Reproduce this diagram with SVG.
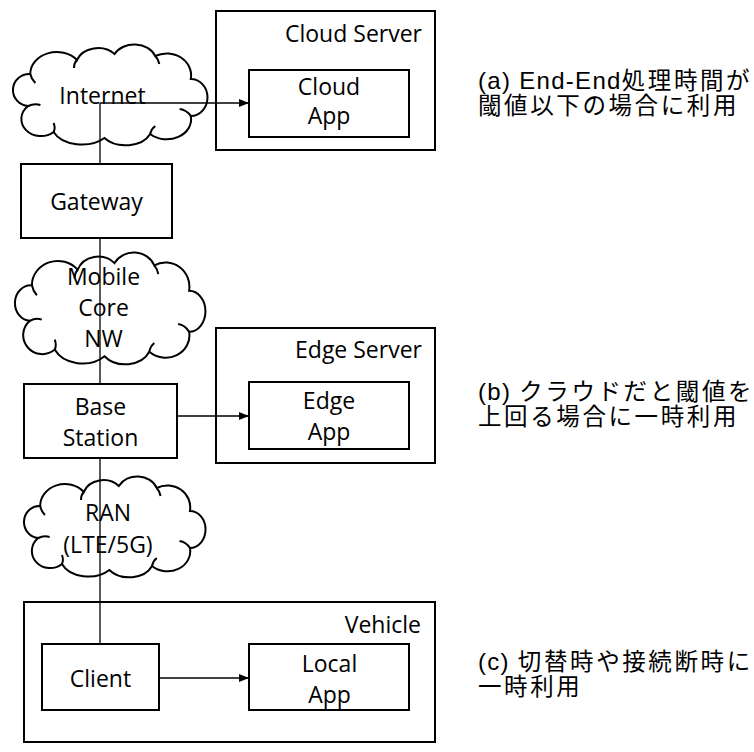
<svg xmlns="http://www.w3.org/2000/svg" xmlns:xlink="http://www.w3.org/1999/xlink" width="754" height="752" viewBox="0 0 754 752">
<style>
.box{fill:#fff;stroke:#000;stroke-width:2}
.cont{fill:none;stroke:#000;stroke-width:2}
.cl{fill:#fff;stroke:#000;stroke-width:2;vector-effect:non-scaling-stroke}
.hk{fill:none;stroke:#000;stroke-width:2;vector-effect:non-scaling-stroke}
.ln{fill:none;stroke:#000;stroke-width:1.3}
.t{font-family:"Open Sans","Liberation Sans",sans-serif;font-size:23px;fill:#000}
.m{text-anchor:middle}
.e{text-anchor:end}
.j{font-family:"Liberation Sans","Noto Sans CJK JP",sans-serif;font-size:23.5px;letter-spacing:2.6px;fill:#000}
.la{font-size:24px;letter-spacing:1.3px}
</style>
<defs>
<marker id="arr" markerUnits="userSpaceOnUse" markerWidth="10" markerHeight="8" refX="10" refY="4" orient="auto">
<path d="M0,0 L10,4 L0,8 z" fill="#000"/>
</marker>
<g id="cloud">
<path class="cl" d="M20,62 A16,16 0 0 1 22,30 A26,22 0 0 1 68,16 A22,18 0 0 1 105,10 A22,18 0 0 1 145,12 A24,22 0 0 1 180,35 A16,18 0 0 1 180,72 A24,20 0 0 1 140,90 A26,18 0 0 1 95,94 A30,20 0 0 1 45,88 A18,16 0 0 1 20,62 Z"/>
<path class="hk" d="M20,62 q6,-3 12,-1 M22,30 q1,5 5,9 M68,16 q-3,3 -3,8 M145,12 q3,3 4,8 M180,72 q-4,-6 -11,-7 M140,90 q1,-5 5,-8 M45,88 q2,-4 0,-9"/>
</g>
</defs>

<g id="cloud-server"><rect class="cont" x="216" y="11" width="219" height="139"/><text class="t e" x="422" y="42">Cloud Server</text></g>
<g id="edge-server"><rect class="cont" x="216" y="328" width="219" height="135"/><text class="t e" x="422" y="358">Edge Server</text></g>
<g id="vehicle"><rect class="cont" x="24" y="602" width="411" height="140"/><text class="t e" x="421" y="633">Vehicle</text></g>

<g id="internet"><use xlink:href="#cloud" transform="translate(7.9,44) scale(1.016,1)"/><text class="t m" x="102.5" y="104">Internet</text></g>
<g id="mobile-core"><use xlink:href="#cloud" transform="translate(10,252) scale(0.995,1.109)"/><text class="t m" x="103.5" y="285">Mobile</text><text class="t m" x="103.5" y="316">Core</text><text class="t m" x="103.5" y="347">NW</text></g>
<g id="ran"><use xlink:href="#cloud" transform="translate(19.3,476) scale(0.948,1)"/><text class="t m" x="108" y="521">RAN</text><text class="t m" x="108" y="553">(LTE/5G)</text></g>

<g id="connectors">
<path class="ln" d="M100,103 V644"/>
<path class="ln" d="M100,103 H249" marker-end="url(#arr)"/>
<path class="ln" d="M177,416 H249" marker-end="url(#arr)"/>
<path class="ln" d="M159,678 H249" marker-end="url(#arr)"/>
</g>

<g id="cloud-app"><rect class="box" x="249" y="70" width="160" height="67"/><text class="t m" x="329" y="95">Cloud</text><text class="t m" x="329" y="124">App</text></g>
<g id="gateway"><rect class="box" x="21" y="164" width="151" height="74"/><text class="t m" x="96.5" y="210">Gateway</text></g>
<g id="base-station"><rect class="box" x="24" y="384" width="153" height="74"/><text class="t m" x="100.5" y="415">Base</text><text class="t m" x="100.5" y="446">Station</text></g>
<g id="edge-app"><rect class="box" x="249" y="382" width="160" height="67"/><text class="t m" x="329" y="409">Edge</text><text class="t m" x="329" y="440">App</text></g>
<g id="client"><rect class="box" x="42" y="644" width="117" height="66"/><text class="t m" x="100.5" y="687">Client</text></g>
<g id="local-app"><rect class="box" x="249" y="644" width="160" height="66"/><text class="t m" x="329.5" y="672">Local</text><text class="t m" x="329.5" y="703">App</text></g>

<g id="note-a"><text class="j" x="478" y="89"><tspan class="la">(a) End-End</tspan>処理時間が</text><text class="j" x="478" y="114">閾値以下の場合に利用</text></g>
<g id="note-b"><text class="j" x="478" y="400"><tspan class="la">(b) </tspan>クラウドだと閾値を</text><text class="j" x="478" y="425">上回る場合に一時利用</text></g>
<g id="note-c"><text class="j" x="478" y="670"><tspan class="la">(c) </tspan>切替時や接続断時に</text><text class="j" x="478" y="695">一時利用</text></g>
</svg>
